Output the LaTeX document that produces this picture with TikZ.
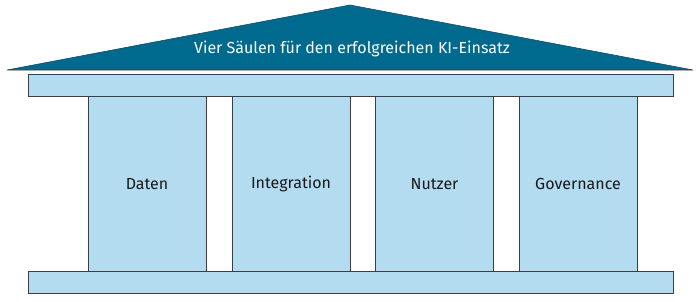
\documentclass[tikz,border=0pt]{standalone}
\usepackage{fontspec}
\setmainfont{Fira Sans}[UprightFont={* Regular}]
\usepackage{tikz}
\usetikzlibrary{positioning}
\definecolor{roofblue}{HTML}{006A8E}
\definecolor{pillarblue}{HTML}{B3DCF1}
\definecolor{edgegray}{HTML}{3A3F44}

\begin{document}
\begin{tikzpicture}[x=1pt, y=-1pt, every node/.style={font=\fontsize{16}{19}\selectfont},
  beam/.style={draw=edgegray, fill=pillarblue, line width=0.8pt, inner sep=0pt,
    minimum width=645pt, minimum height=22pt},
  pillar/.style={draw=edgegray, fill=pillarblue, line width=0.8pt, inner sep=0pt,
    minimum width=118pt, minimum height=175pt, text=black!90}]
  \useasboundingbox (0,0) rectangle (700,301);

  % Roof
  \filldraw[fill=roofblue, draw=edgegray, line width=0.6pt]
    (7,70) -- (350,5) -- (693,70) -- cycle;
  \node[text=white] (title) at (352,49) {Vier Säulen für den erfolgreichen KI-Einsatz};

  % Beams
  \node[beam] (topbeam) at (350.5,85) {};
  \node[beam] (basebeam) at (350.5,282) {};

  % Pillars
  \node[pillar] (daten) at (147,184) {Daten};
  \node[pillar] (integration) at (291,184) {Integration};
  \node[pillar] (nutzer) at (434.5,184) {Nutzer};
  \node[pillar] (governance) at (578,184) {Governance};

\end{tikzpicture}
\end{document}
